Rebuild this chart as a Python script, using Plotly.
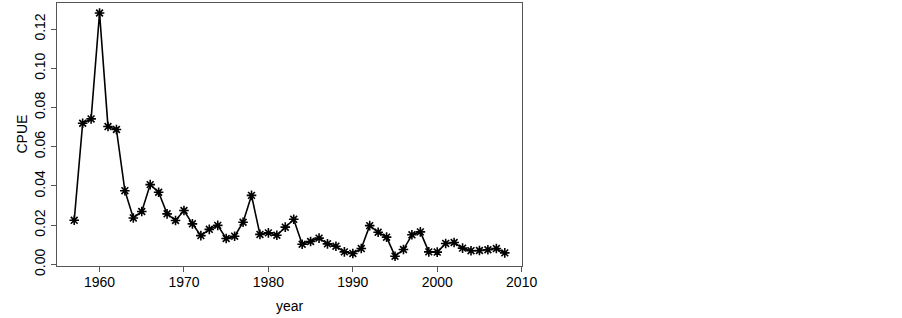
import plotly.graph_objects as go

years = list(range(1957, 2009))
cpue = [0.0225, 0.0720, 0.0742, 0.1282, 0.0703, 0.0688, 0.0376, 0.0237, 0.0270, 0.0407,
        0.0368, 0.0258, 0.0224, 0.0275, 0.0207, 0.0147, 0.0179, 0.0199, 0.0132, 0.0144,
        0.0215, 0.0352, 0.0153, 0.0161, 0.0149, 0.0190, 0.0230, 0.0103, 0.0117, 0.0134,
        0.0105, 0.0093, 0.0064, 0.0056, 0.0081, 0.0198, 0.0164, 0.0139, 0.0042, 0.0076,
        0.0151, 0.0166, 0.0064, 0.0063, 0.0107, 0.0112, 0.0083, 0.0070, 0.0071, 0.0075,
        0.0081, 0.0059]
x_ticks = [1960, 1970, 1980, 1990, 2000, 2010]
y_ticks = [0.00, 0.02, 0.04, 0.06, 0.08, 0.10, 0.12]

font = dict(family="Liberation Sans, Arial, sans-serif", size=14, color="black")
axcol = "#555555"

fig = go.Figure(go.Scatter(
    x=years, y=cpue, mode="lines+markers",
    line=dict(color="black", width=1.6),
    marker=dict(symbol="asterisk-open", size=8, color="black",
                line=dict(color="black", width=1.6)),
    showlegend=False,
))

fig.update_layout(
    width=902, height=318,
    paper_bgcolor="white", plot_bgcolor="white",
    margin=dict(l=57, r=380, t=3, b=52),
    font=font,
    xaxis=dict(range=[1954.96, 2010.04], tickvals=x_ticks, ticks="outside", ticklen=5,
               tickcolor=axcol, showline=True, linecolor=axcol, linewidth=1, mirror=True,
               showgrid=False, zeroline=False, automargin=False, tickfont=font,
               ticklabelstandoff=-2),
    yaxis=dict(range=[-0.0008, 0.1333], tickvals=y_ticks, tickformat=".2f",
               ticks="outside", ticklen=5, tickcolor=axcol, tickangle=-90,
               showline=True, linecolor=axcol, linewidth=1, mirror=True,
               showgrid=False, zeroline=False, automargin=False, tickfont=font),
    annotations=[
        dict(text="year", xref="paper", yref="paper", x=0.5, y=0, yshift=-40,
             xanchor="center", yanchor="middle", showarrow=False, font=font),
        dict(text="CPUE", xref="paper", yref="paper", x=0, y=0.5, xshift=-36,
             xanchor="center", yanchor="middle", textangle=-90, showarrow=False, font=font),
    ],
)

fig.write_html("out.html", config={"displayModeBar": False},
               post_script="document.body.style.margin='0';")
